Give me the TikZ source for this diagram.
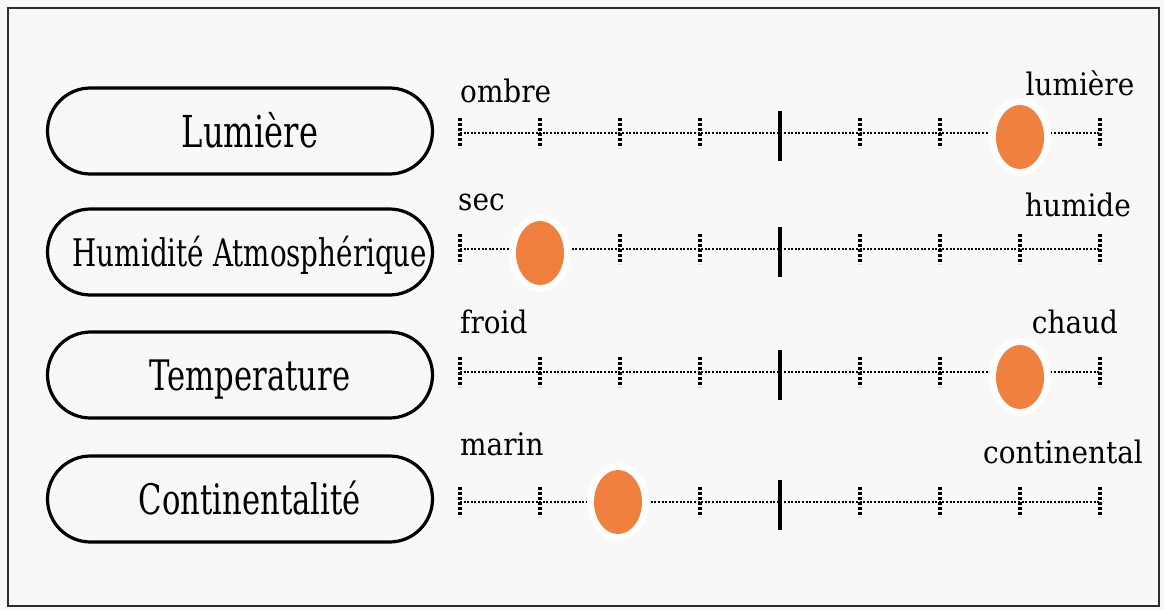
\documentclass[tikz,border=0pt]{standalone}
\usepackage{fontspec}
\setmainfont{DejaVu Serif}
\newfontfamily\boxfont{DejaVu Serif}[FakeStretch=0.73]
\newfontfamily\tagfont{DejaVu Serif}[FakeStretch=0.9]
\usetikzlibrary{positioning,shapes.geometric}
\definecolor{bgGray}{RGB}{248,248,248}
\definecolor{frameGray}{RGB}{45,45,45}
\definecolor{dotOrange}{RGB}{240,128,62}

\begin{document}
\begin{tikzpicture}[x=1pt, y=-1pt,
  facbox/.style={draw=black, line width=3.2pt, rounded corners=43pt, minimum width=385pt,
    minimum height=86pt, inner sep=0pt, text height=32pt, text depth=0pt,
    execute at begin node=\hspace*{20pt}},
  tagL/.style={font=\tagfont\fontsize{31}{31}\selectfont, inner sep=0pt, anchor=base west},
  tagR/.style={font=\tagfont\fontsize{31}{31}\selectfont, inner sep=0pt, anchor=base},
  scaleline/.style={line width=2.8pt, dash pattern=on 2pt off 1.6pt},
  minortick/.style={line width=3.2pt, dash pattern=on 3pt off 2pt},
  midtick/.style={line width=3.5pt},
  marker/.style={ellipse, fill=dotOrange, minimum width=48pt, minimum height=64pt, inner sep=0pt,
    preaction={draw=white, line width=14pt}}
]
\useasboundingbox (0,0) rectangle (1164,610);
\fill[bgGray] (0,0) rectangle (1164,610);
\draw[frameGray, line width=2.5pt] (8,8) rectangle (1159,606);

% factor boxes
\node[facbox, font=\boxfont\fontsize{44}{44}\selectfont] (lum) at (240,131) {Lumière};
\node[facbox, font=\boxfont\fontsize{38}{38}\selectfont, text height=28pt] (hum) at (240,252) {Humidité Atmosphérique};
\node[facbox, font=\boxfont\fontsize{42}{42}\selectfont, text height=31pt] (temp) at (240,375) {Temperature};
\node[facbox, font=\boxfont\fontsize{42}{42}\selectfont, text height=31pt] (cont) at (240,499) {Continentalité};

% scales
\foreach \ry in {133,249,372,502} {
  \draw[scaleline] (460,\ry) -- (1100,\ry);
  \foreach \i in {0,1,2,3,5,6,7,8}
    \draw[minortick] (460+80*\i,\ry-15) -- (460+80*\i,\ry+15);
  \draw[midtick] (780,\ry-22) -- (780,\ry+28);
}

% markers
\node[marker] (mLum) at (1020,137) {};
\node[marker] (mHum) at (540,253) {};
\node[marker] (mTemp) at (1020,377) {};
\node[marker] (mCont) at (618,502) {};

% scale ends
\node[tagL] (ombre) at (460,102) {ombre};
\node[tagR] (lumiere) at (1080,95) {lumière};
\node[tagL] (sec) at (458,210) {sec};
\node[tagR] (humide) at (1078,216) {humide};
\node[tagL] (froid) at (460,333) {froid};
\node[tagR] (chaud) at (1075,333) {chaud};
\node[tagL] (marin) at (460,455) {marin};
\node[tagR] (continental) at (1063,463) {continental};
\end{tikzpicture}
\end{document}
